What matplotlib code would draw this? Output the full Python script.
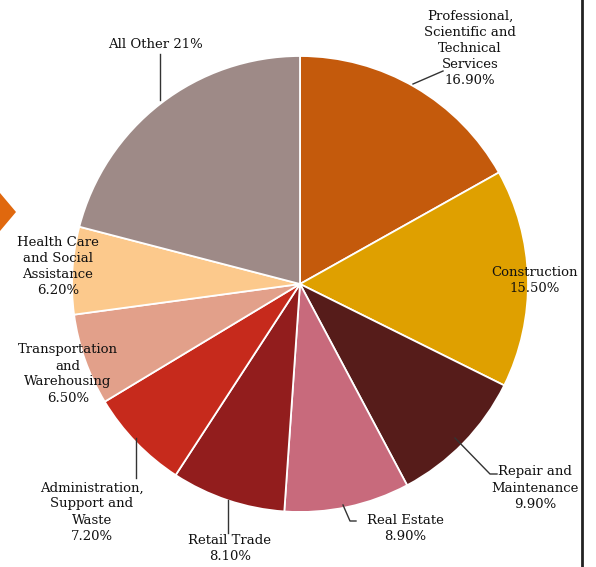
import matplotlib.pyplot as plt
from matplotlib.patches import Polygon

# industry shares (%)
industries = ["Professional,\nScientific and\nTechnical\nServices", "Construction",
              "Repair and\nMaintenance", "Real Estate", "Retail Trade",
              "Administration,\nSupport and\nWaste", "Transportation\nand\nWarehousing",
              "Health Care\nand Social\nAssistance", "All Other"]
shares = [16.9, 15.5, 9.9, 8.9, 8.1, 7.2, 6.5, 6.2, 21]
colors = ["#C45A0C", "#DFA000", "#561C1A", "#C86A7C", "#921D1D",
          "#C62A1C", "#E2A08A", "#FCC98C", "#9E8A87"]

W, H = 596, 567
fig = plt.figure(figsize=(W / 100, H / 100), dpi=100)
ax = fig.add_axes([0, 0, 1, 1])

def py(y):
    # pixel row -> axis y
    return H - y

ax.pie(shares, colors=colors, startangle=90, counterclock=False,
       center=(300, py(284)), radius=228, frame=True,
       wedgeprops=dict(edgecolor="white", linewidth=1.3))
ax.set_xlim(0, W)
ax.set_ylim(0, H)
ax.set_aspect("equal")
ax.axis("off")

font = dict(family="DejaVu Serif", fontsize=9.5, color="#111111",
            ha="center", va="center", linespacing=1.3)

def pct(v):
    return "%.2f%%" % v

# label text positions (pixel coords) and optional leader lines
labels = [
    ((470, 48), [(443, 71), (413, 84)]),
    ((535, 281), None),
    ((535, 488), [(497, 474), (490, 474), (455, 438)]),
    ((405, 529), [(356, 521), (350, 521), (343, 505)]),
    ((230, 549), [(228, 533), (228, 500)]),
    ((92, 512), [(136, 478), (136, 438)]),
    ((68, 374), None),
    ((58, 266), None),
]
for i, ((x, y), lead) in enumerate(labels):
    ax.text(x, py(y), industries[i] + "\n" + pct(shares[i]), **font)
    if lead:
        ax.plot([p[0] for p in lead], [py(p[1]) for p in lead],
                color="#333333", linewidth=1)

ax.text(155, py(45), "%s %d%%" % (industries[-1], shares[-1]), **font)
ax.plot([160, 160], [py(54), py(100)], color="#333333", linewidth=1)

# arrow tip at the left edge and frame line on the right
ax.add_patch(Polygon([(0, py(193)), (16, py(212)), (0, py(231))],
                     closed=True, color="#E0680E", lw=0))
ax.plot([582, 582], [0, H], color="#222222", linewidth=2)

fig.savefig("out.png", dpi=100)
